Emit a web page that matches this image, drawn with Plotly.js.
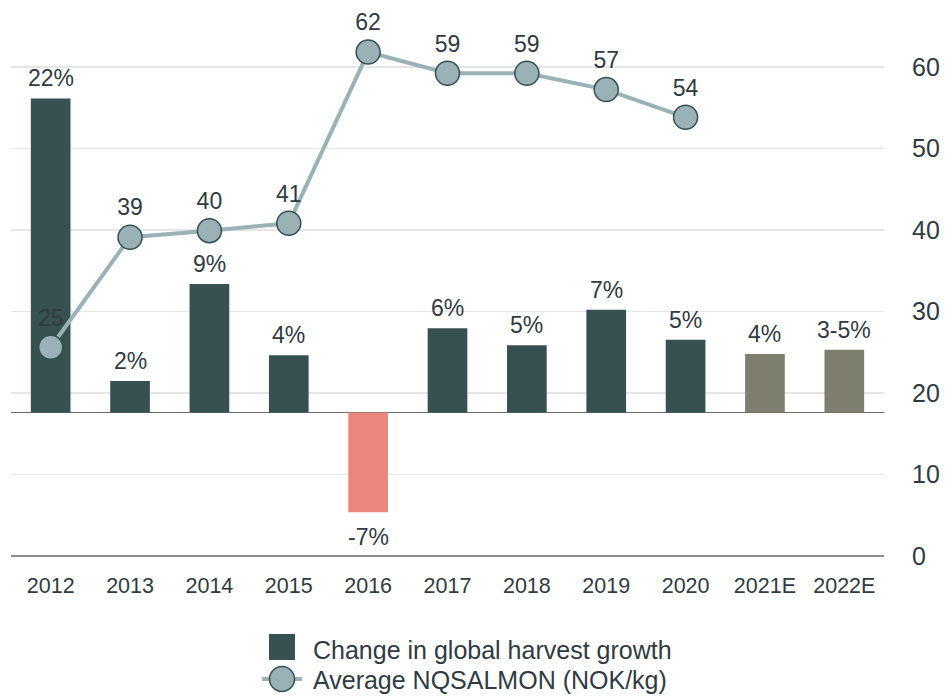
<!DOCTYPE html>
<html>
<head>
<meta charset="utf-8">
<script src="https://cdn.plot.ly/plotly-3.0.1.min.js"></script>
<style>html,body{margin:0;padding:0;background:#fff;}#chart{width:947px;height:696px;}</style>
</head>
<body>
<div id="chart"></div>
<script>
const years = ["2012","2013","2014","2015","2016","2017","2018","2019","2020","2021E","2022E"];
const harvestGrowth = [22, 2.2, 9, 4, -7, 5.9, 4.7, 7.2, 5.1, 4.1, 4.4];
const harvestLabels = ["22%","2%","9%","4%","-7%","6%","5%","7%","5%","4%","3-5%"];
const barColors = ["#375150","#375150","#375150","#375150","#e8877a","#375150","#375150","#375150","#375150","#7f7f70","#7f7f70"];
const priceYears = ["2012","2013","2014","2015","2016","2017","2018","2019","2020"];
const salmonPrice = [25.6, 39.1, 39.9, 40.8, 61.8, 59.2, 59.2, 57.2, 53.8];
const priceLabels = ["25","39","40","41","62","59","59","57","54"];
const rightTicks = [0,10,20,30,40,50,60];
const legendNames = ["Change in global harvest growth", "Average NQSALMON (NOK/kg)"];

const textColor = "#2f3b42";
const font = "Liberation Sans, Arial, Helvetica, sans-serif";
const barDark = "#375150";
const lineColor = "#9ab1b6";
const markerEdge = "#34504f";

const traces = [
  {
    type: "bar",
    name: legendNames[0],
    x: years,
    y: harvestGrowth,
    width: 0.5,
    marker: {color: barColors, line: {width: 0}},
    yaxis: "y",
    showlegend: false,
    hoverinfo: "skip"
  },
  {
    type: "scatter",
    mode: "lines+markers+text",
    name: legendNames[1],
    x: priceYears,
    y: salmonPrice,
    text: priceLabels,
    textposition: "top center",
    textfont: {family: font, size: 23, color: textColor},
    cliponaxis: false,
    line: {color: lineColor, width: 4},
    marker: {size: 24, color: lineColor, line: {color: markerEdge, width: 1.5}},
    yaxis: "y2",
    showlegend: false,
    hoverinfo: "skip"
  }
];

// bar value labels, anchored to the bar ends through the bar axis (category index)
const annotations = years.map((yr, i) => {
  const v = harvestGrowth[i];
  const pos = v >= 0;
  return {
    xref: "x", yref: "y",
    x: years.indexOf(yr), y: v,
    text: harvestLabels[i],
    showarrow: false,
    xanchor: "center",
    yanchor: pos ? "bottom" : "top",
    yshift: pos ? 5 : -10,
    font: {family: font, size: 23, color: textColor}
  };
});

// legend drawn in paper space
const px = v => (v - 11) / 873;
const py = v => (556 - v) / 530;
annotations.push(
  {xref: "paper", yref: "paper", x: px(311), y: py(650), xanchor: "left", yanchor: "middle",
   text: legendNames[0], showarrow: false, font: {family: font, size: 25, color: textColor}},
  {xref: "paper", yref: "paper", x: px(311), y: py(680), xanchor: "left", yanchor: "middle",
   text: legendNames[1], showarrow: false, font: {family: font, size: 25, color: textColor}}
);
const shapes = [
  {type: "rect", xref: "paper", yref: "paper", x0: px(269), x1: px(295), y0: py(660), y1: py(634),
   fillcolor: barDark, line: {width: 0}, layer: "above"},
  {type: "line", xref: "paper", yref: "paper", x0: px(262), x1: px(302), y0: py(679), y1: py(679),
   line: {color: lineColor, width: 4}, layer: "above"},
  {type: "circle", xref: "paper", yref: "paper", x0: px(269.5), x1: px(294.5), y0: py(691.5), y1: py(666.5),
   fillcolor: lineColor, line: {color: markerEdge, width: 1.5}, layer: "above"}
];

const layout = {
  width: 947,
  height: 696,
  margin: {l: 11, r: 63, t: 26, b: 140, autoexpand: false},
  paper_bgcolor: "#ffffff",
  plot_bgcolor: "#ffffff",
  font: {family: font, color: textColor},
  showlegend: false,
  xaxis: {
    type: "category",
    categoryarray: years,
    range: [-0.5, 10.5],
    showgrid: false,
    showline: false,
    zeroline: false,
    ticks: "",
    ticklabelstandoff: 14,
    tickfont: {family: font, size: 21.5, color: textColor}
  },
  yaxis: {
    range: [-10.06, 27.08],
    showgrid: false,
    showticklabels: false,
    ticks: "",
    zeroline: true,
    zerolinecolor: "#6b6b6b",
    zerolinewidth: 1.6,
    showline: false
  },
  yaxis2: {
    overlaying: "y",
    side: "right",
    range: [0, 65],
    tickvals: rightTicks,
    ticktext: rightTicks.map(String),
    showgrid: true,
    gridcolor: "#e6e6e6",
    gridwidth: 1.5,
    zeroline: true,
    zerolinecolor: "#8c8c8c",
    zerolinewidth: 2,
    showline: false,
    ticks: "",
    ticklabelstandoff: 27,
    tickfont: {family: font, size: 25, color: textColor}
  },
  annotations: annotations,
  shapes: shapes,
  bargap: 0.5
};

Plotly.newPlot("chart", traces, layout, {staticPlot: true, displayModeBar: false});
</script>
</body>
</html>
